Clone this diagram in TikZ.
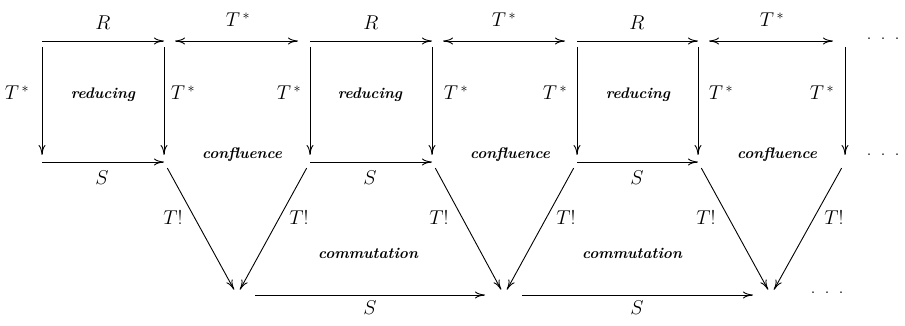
\RequirePackage{fix-cm}
\documentclass[tikz,border=0pt]{standalone}
\usetikzlibrary{arrows.meta}
\begin{document}
\begin{tikzpicture}[x=1pt,y=-1pt,
  arr/.style={line width=0.9pt,-{To[length=10pt,width=7pt]}},
  darr/.style={line width=0.9pt,{To[length=10pt,width=7pt]}-{To[length=10pt,width=7pt]}},
  vert/.style={arr,shorten <=6pt,shorten >=7pt},
  diag/.style={arr,shorten <=7pt,shorten >=6pt},
  lab/.style={font=\fontsize{20}{24}\selectfont,inner sep=0pt},
  word/.style={font=\fontsize{15.3}{18}\selectfont\bfseries\itshape,inner sep=0pt},
  dotsnode/.style={font=\fontsize{20}{24}\selectfont,inner sep=0pt,anchor=base}]
\useasboundingbox (0,0) rectangle (905,326);
% points
\foreach \n/\x in {0/42,1/164,2/310,3/432,4/577,5/698,6/845}{
  \coordinate (A\n) at (\x,41);
  \coordinate (B\n) at (\x,162);
}
\coordinate (C1) at (237,295);
\coordinate (C2) at (504,295);
\coordinate (C3) at (771,295);
% top row
\draw[arr] (A0) -- (A1);
\draw[arr] (A2) -- (A3);
\draw[arr] (A4) -- (A5);
\draw[darr,shorten <=11pt,shorten >=12pt] (A1) -- (A2);
\draw[darr,shorten <=11pt,shorten >=12pt] (A3) -- (A4);
\draw[darr,shorten <=11pt,shorten >=12pt] (A5) -- (A6);
% verticals
\foreach \n in {0,...,6}{\draw[vert] (A\n) -- (B\n);}
% middle row
\draw[arr] (B0) -- (B1);
\draw[arr] (B2) -- (B3);
\draw[arr] (B4) -- (B5);
% diagonals
\draw[diag] (B1) -- (C1);
\draw[diag] (B2) -- (C1);
\draw[diag] (B3) -- (C2);
\draw[diag] (B4) -- (C2);
\draw[diag] (B5) -- (C3);
\draw[diag] (B6) -- (C3);
% bottom row
\draw[arr,shorten <=18pt,shorten >=19pt] (C1) -- (C2);
\draw[arr,shorten <=18pt,shorten >=18pt] (C2) -- (C3);
% labels
\node[lab] (lR1) at (103,23) {$R$};
\node[lab] (lR2) at (371,23) {$R$};
\node[lab] (lR3) at (637,23) {$R$};
\node[lab] (lT1) at (238,20) {$T^{\,*}$};
\node[lab] (lT2) at (504,20) {$T^{\,*}$};
\node[lab] (lT3) at (772,20) {$T^{\,*}$};
\node[lab] (v0) at (17,93) {$T^{\,*}$};
\node[lab] (v1) at (183,93) {$T^{\,*}$};
\node[lab] (v2) at (289,93) {$T^{\,*}$};
\node[lab] (v3) at (456,93) {$T^{\,*}$};
\node[lab] (v4) at (555,93) {$T^{\,*}$};
\node[lab] (v5) at (721,93) {$T^{\,*}$};
\node[lab] (v6) at (822,93) {$T^{\,*}$};
\node[word] (r1) at (103,95) {reducing};
\node[word] (r2) at (370,95) {reducing};
\node[word] (r3) at (638,95) {reducing};
\node[word] (c1) at (242,155) {confluence};
\node[word] (c2) at (510,155) {confluence};
\node[word] (c3) at (777,155) {confluence};
\node[lab] (s1) at (102,178) {$S$};
\node[lab] (s2) at (370,178) {$S$};
\node[lab] (s3) at (637,178) {$S$};
\node[lab] (t1) at (173,218) {$T!$};
\node[lab] (t2) at (299,218) {$T!$};
\node[lab] (t3) at (439,218) {$T!$};
\node[lab] (t4) at (566,218) {$T!$};
\node[lab] (t5) at (706,218) {$T!$};
\node[lab] (t6) at (834,218) {$T!$};
\node[word] (m1) at (368,253) {commutation};
\node[word] (m2) at (632,253) {commutation};
\node[lab] (s4) at (370,308) {$S$};
\node[lab] (s5) at (637,308) {$S$};
\node[dotsnode] (d1) at (883,40) {.\hspace{9pt}.\hspace{9pt}.};
\node[dotsnode] (d2) at (883,156) {.\hspace{9pt}.\hspace{9pt}.};
\node[dotsnode] (d3) at (827,293) {.\hspace{9pt}.\hspace{9pt}.};
\end{tikzpicture}
\end{document}
